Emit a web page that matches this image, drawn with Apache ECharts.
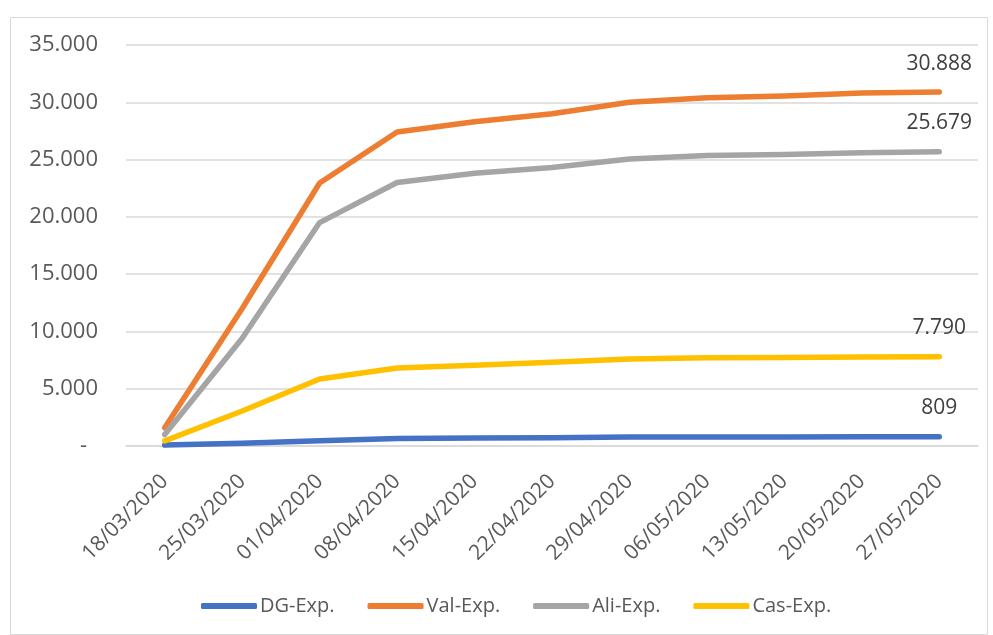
<!DOCTYPE html>
<html><head><meta charset="utf-8">
<script src="https://cdn.jsdelivr.net/npm/echarts@6/dist/echarts.min.js"></script>
<style>html,body{margin:0;padding:0;background:#fff}#c{width:993px;height:635px}</style>
</head><body><div id="c"></div>
<script>
const categories = ['18/03/2020','25/03/2020','01/04/2020','08/04/2020','15/04/2020','22/04/2020','29/04/2020','06/05/2020','13/05/2020','20/05/2020','27/05/2020'];
const dgExp  = [80, 250, 450, 650, 700, 730, 780, 790, 795, 800, 809];
const valExp = [1600, 12000, 22950, 27400, 28300, 29000, 30000, 30400, 30550, 30800, 30888];
const aliExp = [1000, 9400, 19500, 23000, 23800, 24300, 25050, 25350, 25450, 25600, 25679];
const casExp = [450, 3050, 5850, 6800, 7050, 7300, 7600, 7700, 7720, 7770, 7790];
const seriesNames = ['DG-Exp.','Val-Exp.','Ali-Exp.','Cas-Exp.'];
const seriesColors = ['#4472C4','#ED7D31','#A5A5A5','#FFC000'];
const seriesData = [dgExp, valExp, aliExp, casExp];

function fmt(v){
  if (v === 0) return '-';
  return String(Math.round(v)).replace(/\B(?=(\d{3})+(?!\d))/g, '.');
}
const FF = 'Open Sans, Noto Sans, sans-serif';
const chart = echarts.init(document.getElementById('c'));
chart.setOption({
  animation: false,
  textStyle: {fontFamily: FF},
  graphic: [{type:'rect', left: 8, top: 15, shape:{width: 977, height: 617}, style:{fill:'none', stroke:'#d9d9d9', lineWidth:1}, silent:true}],
  grid: {left: 126, right: 15, top: 45, bottom: 189},
  legend: {
    top: 591, left: 196, itemWidth: 56, itemHeight: 6, itemGap: 33,
    icon: 'roundRect',
    textStyle: {color: '#595959', fontSize: 20, fontFamily: FF, padding: [0,0,0,-2]},
    data: seriesNames
  },
  xAxis: {
    type: 'category', data: categories, boundaryGap: true,
    axisLine: {show: true, lineStyle: {color: '#d9d9d9', width: 1.5}},
    axisTick: {show: false},
    axisLabel: {rotate: 45, color: '#595959', fontSize: 21, margin: 32, interval: 0}
  },
  yAxis: {
    type: 'value', min: 0, max: 35000, interval: 5000,
    axisLine: {show: false}, axisTick: {show: false},
    splitLine: {lineStyle: {color: '#d9d9d9', width: 1.5}},
    axisLabel: {
      formatter: v => v === 0 ? '{d|-}' : fmt(v),
      color: '#595959', fontSize: 22, margin: 28,
      rich: {d: {color: '#595959', fontSize: 22, padding: [0, 11, 0, 0]}}
    }
  },
  series: seriesData.map((d, i) => ({
    name: seriesNames[i], type: 'line', data: d,
    symbol: 'circle', symbolSize: 0.01, showSymbol: true, showAllSymbol: true,
    lineStyle: {width: 5.5, color: seriesColors[i], cap: 'round', join: 'round'},
    itemStyle: {color: seriesColors[i]},
    label: {
      show: true, position: 'top', distance: 18, color: '#404040', fontSize: 21,
      formatter: p => p.dataIndex === d.length - 1 ? fmt(p.value) : ''
    }
  }))
});
</script></body></html>
